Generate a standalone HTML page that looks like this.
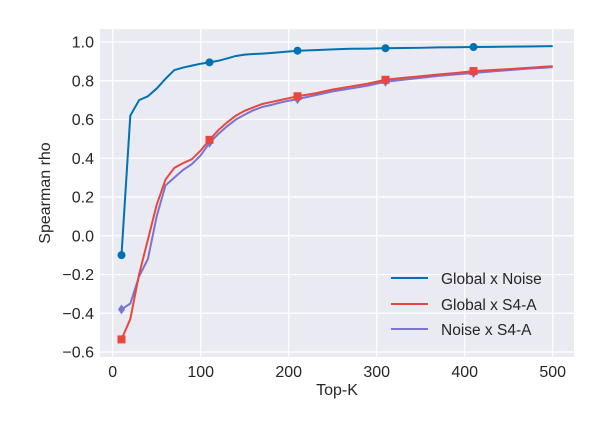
<!DOCTYPE html>
<html><head><style>
body{margin:0;background:#fff;}
svg text{font-family:"Liberation Sans",sans-serif;fill:#262626;}
</style></head><body>
<svg id="c" width="602" height="417">
<rect x="100" y="29" width="474" height="328" fill="#eaeaf2"/>
<g id="grid"></g><g id="series"></g>
<text x="337" y="395" font-size="16" text-anchor="middle">Top-K</text>
<text transform="translate(50,193) rotate(-90)" font-size="16" text-anchor="middle">Spearman rho</text>
<g>
<line x1="391" y1="278" x2="428" y2="278" stroke="#0072b2" stroke-width="2"/>
<text x="441" y="284" font-size="15.5">Global x Noise</text>
<line x1="391" y1="304" x2="428" y2="304" stroke="#e8473e" stroke-width="2"/>
<text x="441" y="310" font-size="15.5">Global x S4-A</text>
<line x1="391" y1="329" x2="428" y2="329" stroke="#7b74d0" stroke-width="2"/>
<text x="441" y="335" font-size="15.5">Noise x S4-A</text>
</g>
</svg>
<script>
const xs=[10,20,30,40,50,60,70,80,90,100,110,120,130,140,150,160,170,180,190,200,210,230,250,270,290,310,330,350,370,390,410,430,450,470,490,500];
const blue=[-0.1,0.62,0.70,0.72,0.76,0.81,0.855,0.868,0.878,0.888,0.895,0.903,0.915,0.928,0.935,0.938,0.94,0.943,0.947,0.951,0.955,0.958,0.962,0.965,0.966,0.968,0.969,0.97,0.972,0.973,0.974,0.975,0.976,0.977,0.978,0.979];
const red=[-0.535,-0.43,-0.2,-0.02,0.16,0.29,0.35,0.375,0.395,0.44,0.495,0.545,0.585,0.62,0.645,0.663,0.68,0.69,0.70,0.71,0.72,0.735,0.755,0.77,0.785,0.805,0.815,0.823,0.832,0.84,0.85,0.855,0.86,0.866,0.872,0.875];
const purple=[-0.38,-0.35,-0.21,-0.12,0.10,0.26,0.30,0.34,0.37,0.415,0.48,0.525,0.565,0.6,0.625,0.648,0.665,0.675,0.687,0.697,0.705,0.725,0.745,0.76,0.775,0.795,0.805,0.815,0.825,0.833,0.84,0.848,0.855,0.862,0.867,0.87];
const xTicks=[0,100,200,300,400,500];
const yTicks=[-0.6,-0.4,-0.2,0.0,0.2,0.4,0.6,0.8,1.0];
const X=v=>112.7+v*0.88;
const Y=v=>42+(1-v)*193.75;
const NS='http://www.w3.org/2000/svg';
const g=document.getElementById('grid'),s=document.getElementById('series');
function mk(tag,at,p){const e=document.createElementNS(NS,tag);for(const k in at)e.setAttribute(k,at[k]);p.appendChild(e);return e;}
xTicks.forEach(t=>{const l=mk('line',{x1:X(t),x2:X(t),y1:29,y2:357,stroke:'#fff','stroke-width':1.2},g);


const tx=mk('text',{x:X(t),y:377,'font-size':16,'text-anchor':'middle'},g);tx.textContent=t;

});
yTicks.forEach(t=>{const l=mk('line',{x1:100,x2:574,y1:Y(t),y2:Y(t),stroke:'#fff','stroke-width':1.2},g);


const tx=mk('text',{x:94,y:Y(t)+5.5,'font-size':16,'text-anchor':'end'},g);tx.textContent=(t<0?'\u2212':'')+Math.abs(t).toFixed(1);

});
function series(vals,col,name,marker){
const p=mk('polyline',{points:xs.map((x,i)=>X(x)+','+Y(vals[i])).join(' '),fill:'none',stroke:col,'stroke-width':2},s);


xs.forEach((x,i)=>{if((x-10)%100!==0)return;const cx=X(x),cy=Y(vals[i]);let m;
if(marker==='o')m=mk('circle',{cx:cx,cy:cy,r:4,fill:col},s);
else if(marker==='s')m=mk('rect',{x:cx-4,y:cy-4,width:8,height:8,fill:col},s);
else m=mk('polygon',{points:`${cx},${cy-5} ${cx+3.5},${cy} ${cx},${cy+5} ${cx-3.5},${cy}`,fill:col},s);

});}
series(purple,'#7b74d0','noise-s4a','d');
series(red,'#e8473e','global-s4a','s');
series(blue,'#0072b2','global-noise','o');
</script>
</body></html>
